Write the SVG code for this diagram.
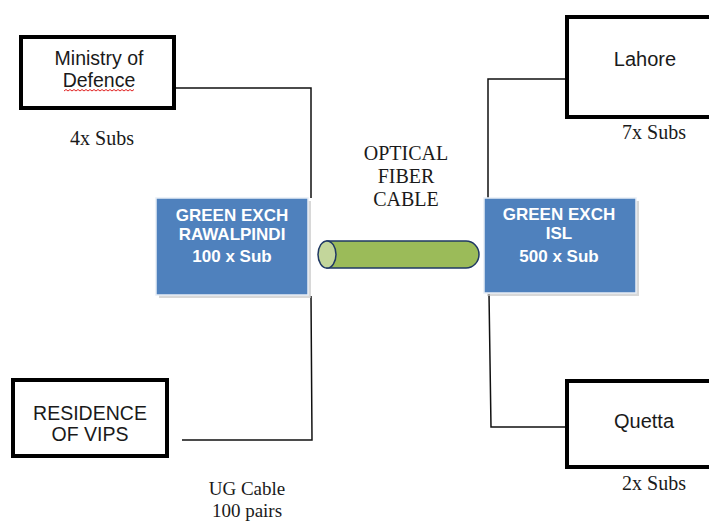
<svg xmlns="http://www.w3.org/2000/svg" width="709" height="522" viewBox="0 0 709 522">
  <style>
    .site { fill: #ffffff; stroke: #000000; stroke-width: 4; }
    .exch { fill: #4F81BD; stroke: #E8EEF6; stroke-width: 1.5; }
    .shadow { fill: #C8C8C8; opacity: 0.7; }
    .lbl { font-family: "Liberation Sans", Arial, sans-serif; font-size: 19.5px; fill: #1a1a1a; text-anchor: middle; }
    .exchlbl { font-family: "Liberation Sans", Arial, sans-serif; font-size: 17px; font-weight: bold; fill: #ffffff; text-anchor: middle; }
    .note { font-family: "Liberation Serif", "Times New Roman", serif; font-size: 20px; fill: #1a1a1a; text-anchor: middle; }
    .wire { fill: none; stroke: #111111; stroke-width: 1.5; }
  </style>

  <rect width="709" height="522" fill="#ffffff"/>

  <!-- wiring between exchanges and subscriber sites -->
  <g id="connectors">
    <polyline class="wire" points="175,88 311,88 311,198"/>
    <polyline class="wire" points="311,296 312,440 182,440"/>
    <polyline class="wire" points="567,79 488,79 488,198"/>
    <polyline class="wire" points="489,294 491,427 567,427"/>
  </g>

  <g id="ministry">
    <rect class="site" x="21" y="37" width="153" height="71"/>
    <text class="lbl" x="99" y="65">Ministry of</text>
    <text class="lbl" x="99" y="87">Defence</text>
    <path d="M64,91 l2,-1.5 l2,1.5 l2,-1.5 l2,1.5 l2,-1.5 l2,1.5 l2,-1.5 l2,1.5 l2,-1.5 l2,1.5 l2,-1.5 l2,1.5 l2,-1.5 l2,1.5 l2,-1.5 l2,1.5 l2,-1.5 l2,1.5 l2,-1.5 l2,1.5 l2,-1.5 l2,1.5 l2,-1.5 l2,1.5 l2,-1.5 l2,1.5 l2,-1.5 l2,1.5 l2,-1.5 l2,1.5 l2,-1.5 l2,1.5 l2,-1.5 l2,1.5 l2,-1.5" fill="none" stroke="#E02020" stroke-width="1"/>
    <text class="note" x="102" y="145">4x Subs</text>
  </g>

  <g id="residence">
    <rect class="site" x="13" y="380" width="154" height="76"/>
    <text class="lbl" x="90" y="420">RESIDENCE</text>
    <text class="lbl" x="90" y="441">OF VIPS</text>
  </g>

  <g id="lahore">
    <rect class="site" x="567" y="17" width="150" height="100"/>
    <text class="lbl" x="645" y="66" style="font-size:20px">Lahore</text>
    <text class="note" x="654" y="139">7x Subs</text>
  </g>

  <g id="quetta">
    <rect class="site" x="567" y="381" width="150" height="86"/>
    <text class="lbl" x="644" y="428" style="font-size:20px">Quetta</text>
    <text class="note" x="654" y="490">2x Subs</text>
  </g>

  <g id="exch-rawalpindi">
    <rect class="shadow" x="159" y="201" width="152" height="97"/>
    <rect class="exch" x="156" y="198" width="152" height="97"/>
    <text class="exchlbl" x="232" y="221">GREEN EXCH</text>
    <text class="exchlbl" x="232" y="240">RAWALPINDI</text>
    <text class="exchlbl" x="232" y="262">100 x Sub</text>
  </g>

  <g id="exch-isl">
    <rect class="shadow" x="487" y="201" width="152" height="95"/>
    <rect class="exch" x="484" y="198" width="152" height="95"/>
    <text class="exchlbl" x="559" y="220">GREEN EXCH</text>
    <text class="exchlbl" x="559" y="239">ISL</text>
    <text class="exchlbl" x="559" y="262">500 x Sub</text>
  </g>

  <g id="fiber-cable">
    <path d="M327,241 L466,241 A13,13.5 0 0 1 466,268 L327,268 Z" fill="#9BBB59" stroke="#1F3864" stroke-width="1.5"/>
    <ellipse cx="327" cy="254.5" rx="9" ry="13.5" fill="#C3D69B" stroke="#1F3864" stroke-width="1.5"/>
    <text class="note" x="406" y="160">OPTICAL</text>
    <text class="note" x="406" y="183">FIBER</text>
    <text class="note" x="406" y="206">CABLE</text>
  </g>

  <g id="ug-cable">
    <text class="note" x="247" y="495" style="font-size:19px">UG Cable</text>
    <text class="note" x="247" y="517" style="font-size:19px">100 pairs</text>
  </g>
</svg>
